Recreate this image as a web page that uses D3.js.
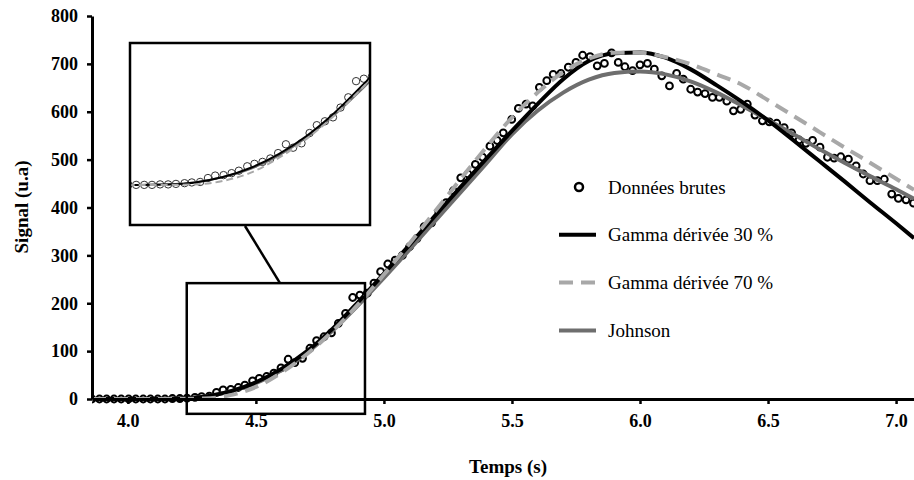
<!DOCTYPE html>
<html>

<head>
    <meta charset="utf-8">
    <style>
        body {
            margin: 0;
            background: white;
        }

        svg {
            display: block;
        }

        text {
            font-family: "Liberation Serif", "DejaVu Serif", serif;
        }

        .axis .tick text {
            font-size: 18px;
            font-weight: bold;
            fill: #000;
        }

        .axis-title {
            font-size: 19px;
            font-weight: bold;
        }

        .legend text {
            font-size: 19px;
        }
    </style>
</head>

<body>
    <svg width="914" height="480"></svg>

    <script src="https://d3js.org/d3.v7.min.js"></script>

    <script>
        // raw measurements (time in s, signal in u.a)
        let rawTime = [3.860, 3.889, 3.917, 3.946, 3.974, 4.003, 4.031, 4.060, 4.088, 4.117, 4.145, 4.174, 4.203, 4.231,
            4.262, 4.288, 4.318, 4.346, 4.372, 4.402, 4.431, 4.457, 4.487, 4.513, 4.542, 4.570, 4.598, 4.626, 4.652, 4.682,
            4.711, 4.737, 4.766, 4.795, 4.822, 4.850, 4.878, 4.906, 4.935, 4.961, 4.987,
            5.015, 5.044, 5.072, 5.100, 5.129, 5.157, 5.186, 5.214, 5.243, 5.271, 5.300, 5.328, 5.357, 5.385, 5.414, 5.442,
            5.466, 5.499, 5.525, 5.555, 5.581, 5.607, 5.636, 5.661, 5.691, 5.720, 5.750, 5.776, 5.805, 5.833, 5.861, 5.889,
            5.915, 5.941, 5.971, 6.000, 6.029, 6.056, 6.085, 6.115, 6.143, 6.169, 6.198, 6.225, 6.254, 6.283, 6.310, 6.339,
            6.365, 6.393, 6.419, 6.449, 6.478, 6.505, 6.534, 6.563, 6.592, 6.621, 6.648, 6.674, 6.703, 6.732, 6.758, 6.784,
            6.814, 6.844, 6.872, 6.898, 6.927, 6.954, 6.983, 7.009, 7.039, 7.068]
        let rawSignal = [0, 0, 0, 0, 0, 0, 0, 0, 0, 0, 0, 1, 1, 2,
            3.5, 5, 6, 14, 19, 20, 24, 29, 38, 43, 47, 54, 65, 83, 76, 85,
            106, 122, 130, 138, 158, 179, 212, 217, 221, 242, 266,
            282, 290, 300, 318, 335, 360, 368, 392, 410, 435, 462, 470, 490, 505, 528, 540,
            556, 584, 607, 616, 612, 651, 665, 678, 680, 693, 703, 718, 715, 696, 701, 723,
            703, 694, 686, 698, 701, 689, 675, 654, 680, 668, 647, 641, 638, 630, 630, 622,
            602, 605, 616, 593, 581, 579, 576, 567, 556, 541, 534, 540, 526, 505, 503, 506,
            501, 487, 470, 456, 456, 459, 428, 419, 416, 409]

        // fitted models, read every 0.1 s
        let fitTime = [3.86, 4.1, 4.2, 4.3, 4.4, 4.5, 4.6, 4.7, 4.8, 4.9, 5.0, 5.1, 5.2, 5.3, 5.4, 5.5, 5.6, 5.7, 5.8, 5.9,
            6.0, 6.1, 6.2, 6.3, 6.4, 6.5, 6.6, 6.7, 6.8, 6.9, 7.0, 7.07]
        let gamma30 = [0, 0, 1, 5, 16, 35, 63, 100, 147, 203, 262, 322, 383, 443, 502, 560, 616, 668, 706, 722,
            724, 713, 688, 655, 620, 582, 540, 497, 454, 410, 367, 336]
        let gamma70 = [0, 0, 0, 1, 8, 25, 55, 94, 142, 198, 260, 325, 392, 460, 526, 588, 640, 683, 711, 723,
            723, 714, 699, 678, 656, 624, 591, 558, 525, 493, 460, 437]
        let johnson = [0, 0, 1, 5, 16, 33, 60, 97, 143, 196, 253, 312, 372, 432, 492, 553, 602, 640, 667, 681,
            684, 678, 663, 640, 612, 583, 553, 522, 493, 465, 438, 418]

        let xTicks = [4.0, 4.5, 5.0, 5.5, 6.0, 6.5, 7.0]
        let yTicks = [0, 100, 200, 300, 400, 500, 600, 700, 800]
        let legendLabels = ["Données brutes", "Gamma dérivée 30 %", "Gamma dérivée 70 %", "Johnson"]

        // zoomed window: [t start, t end], [signal low, signal high]
        let zoomTime = [4.23, 4.926]
        let zoomSignal = [-31, 242]
        let insetTime = [4.066, 4.928]
        let insetSignal = [-82, 290]

        let width = 914;
        let height = 480;

        let svg = d3.select("svg")

        let x = d3.scaleLinear().domain([3.86, 7.07]).range([92, 914])
        let y = d3.scaleLinear().domain([0, 800]).range([399, 16])

        let raw = rawTime.map((t, i) => ({ t: t, v: rawSignal[i] }))
        let fits = [
            { name: "johnson", values: johnson, color: "#6e6e6e", dash: null },
            { name: "gamma30", values: gamma30, color: "#000", dash: null },
            { name: "gamma70", values: gamma70, color: "#a8a8a8", dash: "14,8" }
        ]

        // main clip
        svg.append("clipPath")
            .attr("id", "plot-clip")
            .append("rect")
            .attr("x", 92)
            .attr("y", 0)
            .attr("width", width - 92)
            .attr("height", 405)

        let plot = svg.append("g").attr("clip-path", "url(#plot-clip)")

        plot.append("g")
            .selectAll("circle")
            .data(raw)
            .join("circle")
            .attr("cx", d => x(d.t))
            .attr("cy", d => y(d.v))
            .attr("r", 3.4)
            .attr("fill", "white")
            .attr("stroke", "#000")
            .attr("stroke-width", 2)

        let line = d3.line()
            .x(d => x(d.t))
            .y(d => y(d.v))
            .curve(d3.curveMonotoneX)

        plot.selectAll(".fit")
            .data(fits)
            .join("path")
            .attr("class", "fit")
            .attr("d", f => line(fitTime.map((t, i) => ({ t: t, v: f.values[i] }))))
            .attr("fill", "none")
            .attr("stroke", f => f.color)
            .attr("stroke-width", 4)
            .attr("stroke-dasharray", f => f.dash)

        // axes
        let yAxis = svg.append("g")
            .attr("class", "axis")
            .attr("transform", "translate(92,0)")
            .call(d3.axisLeft(y).tickValues(yTicks).tickSize(5).tickSizeOuter(0).tickPadding(9))

        let xAxis = svg.append("g")
            .attr("class", "axis")
            .attr("transform", "translate(0,399)")
            .call(d3.axisBottom(x).tickValues(xTicks).tickFormat(d3.format(".1f")).tickSize(5).tickSizeOuter(0).tickPadding(10))

        // d3 puts font-family="sans-serif" on the axis group, drop it
        svg.selectAll(".axis").attr("font-family", null)

        svg.selectAll(".axis .domain")
            .attr("stroke", "#000")
            .attr("stroke-width", 3)
        svg.selectAll(".axis .tick line")
            .attr("stroke", "#000")
            .attr("stroke-width", 2.5)

        svg.append("text")
            .attr("class", "axis-title")
            .attr("transform", "translate(21,207) rotate(-90)")
            .attr("text-anchor", "middle")
            .attr("dominant-baseline", "central")
            .text("Signal (u.a)")

        svg.append("text")
            .attr("class", "axis-title")
            .attr("x", 508)
            .attr("y", 473)
            .attr("text-anchor", "middle")
            .text("Temps (s)")

        // zoom box on the main plot
        svg.append("rect")
            .attr("x", x(zoomTime[0]))
            .attr("y", y(zoomSignal[1]))
            .attr("width", x(zoomTime[1]) - x(zoomTime[0]))
            .attr("height", y(zoomSignal[0]) - y(zoomSignal[1]))
            .attr("fill", "none")
            .attr("stroke", "#000")
            .attr("stroke-width", 2.5)

        // inset
        let ix = d3.scaleLinear().domain(insetTime).range([130, 370])
        let iy = d3.scaleLinear().domain(insetSignal).range([225, 43])

        svg.append("clipPath")
            .attr("id", "inset-clip")
            .append("rect")
            .attr("x", 130)
            .attr("y", 43)
            .attr("width", 240)
            .attr("height", 182)

        let inset = svg.append("g")

        inset.append("rect")
            .attr("x", 130)
            .attr("y", 43)
            .attr("width", 240)
            .attr("height", 182)
            .attr("fill", "white")

        let insetPlot = inset.append("g").attr("clip-path", "url(#inset-clip)")

        insetPlot.append("g")
            .selectAll("circle")
            .data(raw)
            .join("circle")
            .attr("cx", d => ix(d.t))
            .attr("cy", d => iy(d.v))
            .attr("r", 3.7)
            .attr("fill", "white")
            .attr("stroke", "#333")
            .attr("stroke-width", 1)

        let insetLine = d3.line()
            .x(d => ix(d.t))
            .y(d => iy(d.v))
            .curve(d3.curveMonotoneX)

        insetPlot.selectAll(".ifit")
            .data(fits)
            .join("path")
            .attr("class", "ifit")
            .attr("d", f => insetLine(fitTime.map((t, i) => ({ t: t, v: f.values[i] }))))
            .attr("fill", "none")
            .attr("stroke", f => f.color)
            .attr("stroke-width", 2)
            .attr("stroke-dasharray", f => f.dash ? "7,4" : null)

        inset.append("rect")
            .attr("x", 130)
            .attr("y", 43)
            .attr("width", 240)
            .attr("height", 182)
            .attr("fill", "none")
            .attr("stroke", "#000")
            .attr("stroke-width", 2.5)

        svg.append("line")
            .attr("x1", 245)
            .attr("y1", 226)
            .attr("x2", 280)
            .attr("y2", y(zoomSignal[1]))
            .attr("stroke", "#000")
            .attr("stroke-width", 2.5)

        // legend
        let legend = svg.append("g")
            .attr("class", "legend")
            .attr("transform", "translate(558,187)")

        let rows = legend.selectAll("g")
            .data(legendLabels)
            .join("g")
            .attr("transform", (d, i) => `translate(0,${i * 47.8})`)

        rows.append("text")
            .attr("x", 50)
            .attr("y", 0)
            .attr("dominant-baseline", "central")
            .text(d => d)

        rows.filter((d, i) => i == 0)
            .append("circle")
            .attr("cx", 21)
            .attr("cy", 0)
            .attr("r", 4)
            .attr("fill", "white")
            .attr("stroke", "#000")
            .attr("stroke-width", 2.5)

        let legendStyle = [null, fits[1], fits[2], fits[0]]
        rows.filter((d, i) => i > 0)
            .append("line")
            .attr("x1", 1)
            .attr("x2", 38)
            .attr("y1", 0)
            .attr("y2", 0)
            .attr("stroke", (d, i) => legendStyle[i + 1].color)
            .attr("stroke-width", 4)
            .attr("stroke-dasharray", (d, i) => legendStyle[i + 1].dash)
    </script>
</body>

</html>
